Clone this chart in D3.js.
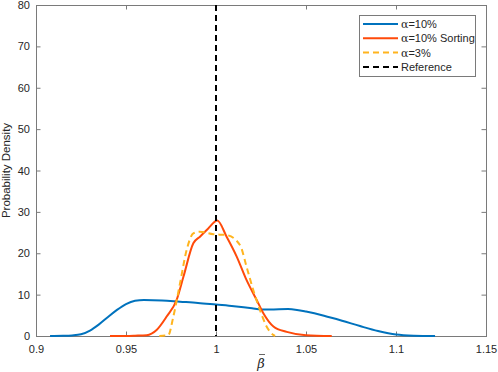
<!DOCTYPE html>
<html>
<head>
<meta charset="utf-8">
<script src="https://cdn.jsdelivr.net/npm/d3@7"></script>
<style>
  body { margin: 0; background: #fff; }
  text { font-family: "Liberation Sans", Arial, sans-serif; fill: #262626; }
</style>
</head>
<body>
<div id="chart"></div>
<script>
// x values / densities
const blueX = [0.9078, 0.915, 0.92, 0.925, 0.93, 0.935, 0.94, 0.945, 0.95, 0.955, 0.96, 0.97, 0.98, 0.99, 1.0, 1.01, 1.02, 1.025, 1.03, 1.04, 1.045, 1.05, 1.06, 1.07, 1.08, 1.09, 1.1, 1.11, 1.1217];
const blueY = [0, 0.05, 0.15, 0.4, 1.3, 2.8, 4.6, 6.3, 7.7, 8.5, 8.7, 8.6, 8.3, 8.0, 7.6, 7.2, 6.7, 6.4, 6.4, 6.5, 6.3, 5.9, 4.9, 3.7, 2.4, 1.2, 0.35, 0.08, 0];

const sortX = [0.9411, 0.95, 0.955, 0.9615, 0.967, 0.9726, 0.9781, 0.9819, 0.9874, 0.9911, 0.9957, 1.0007, 1.0059, 1.0115, 1.017, 1.0226, 1.0263, 1.0319, 1.0393, 1.05, 1.0643];
const sortY = [0, 0.02, 0.08, 0.2, 1.45, 4.7, 8.7, 14.3, 22.4, 24, 26, 27.9, 24, 19.2, 13.5, 8.7, 5.5, 2.3, 1.0, 0.2, 0];

const a3X = [0.9685, 0.9735, 0.9763, 0.98, 0.9837, 0.9874, 0.991, 0.9985, 1.0059, 1.0133, 1.017, 1.0207, 1.0244, 1.0281, 1.032, 1.0328];
const a3Y = [0, 0.2, 4.7, 12.7, 20.8, 24.8, 25.2, 24.6, 24.4, 22, 16.7, 11.1, 6.3, 2.3, 0.2, 0];

const refX = 1;
const xTicks = [0.9, 0.95, 1, 1.05, 1.1, 1.15];
const yTicks = [0, 10, 20, 30, 40, 50, 60, 70, 80];
const legendLabels = ["10%", "10% Sorting", "3%", "Reference"];

const W = 498, H = 372;
const margin = {left: 36, right: 12, top: 5, bottom: 36};
const width = W - margin.left - margin.right;
const height = H - margin.top - margin.bottom;

const svg = d3.select("#chart").append("svg")
    .attr("width", W)
    .attr("height", H);

const g = svg.append("g")
    .attr("transform", `translate(${margin.left},${margin.top})`);

const x = d3.scaleLinear().domain([0.9, 1.15]).range([0, width]);
const y = d3.scaleLinear().domain([0, 80]).range([height, 0]);

const axisColor = "#7a7a7a";
const tickLen = 4.5;

// ticks pointing inward on all four sides
const xAxis = d3.axisBottom(x).tickValues(xTicks).tickSize(-tickLen).tickPadding(9)
    .tickFormat(d => d3.format("")(+d.toFixed(2)));
const yAxis = d3.axisLeft(y).tickValues(yTicks).tickSize(-tickLen).tickPadding(6);

g.append("g").attr("transform", `translate(0,${height})`).call(xAxis);
g.append("g").call(yAxis);
g.append("g").call(d3.axisTop(x).tickValues(xTicks).tickSize(-tickLen).tickFormat(""));
g.append("g").attr("transform", `translate(${width},0)`)
    .call(d3.axisRight(y).tickValues(yTicks).tickSize(-tickLen).tickFormat(""));

g.selectAll(".domain").remove();
g.selectAll(".tick line").attr("stroke", axisColor);
g.selectAll(".tick text").style("font-size", "11px").attr("fill", "#262626");

// box
g.append("rect")
    .attr("x", 0.5).attr("y", 0.5)
    .attr("width", width).attr("height", height)
    .attr("fill", "none")
    .attr("stroke", axisColor);

const lineOf = (xs, ys) => d3.line()
    .x(d => x(d))
    .y((d, i) => y(ys[i]))
    .curve(d3.curveMonotoneX)(xs);

g.append("path")
    .attr("d", lineOf(blueX, blueY))
    .attr("fill", "none").attr("stroke", "#0072BD").attr("stroke-width", 2);

g.append("path")
    .attr("d", lineOf(sortX, sortY))
    .attr("fill", "none").attr("stroke", "#FF4A0A").attr("stroke-width", 2);

g.append("path")
    .attr("d", lineOf(a3X, a3Y))
    .attr("fill", "none").attr("stroke", "#FFB41E").attr("stroke-width", 2)
    .attr("stroke-dasharray", "6,4");

g.append("line")
    .attr("x1", x(refX)).attr("x2", x(refX))
    .attr("y1", y(80)).attr("y2", y(0))
    .attr("stroke", "#000").attr("stroke-width", 2)
    .attr("stroke-dasharray", "6,4");

// axis labels
svg.append("text")
    .attr("transform", `translate(10,${margin.top + height / 2}) rotate(-90)`)
    .attr("text-anchor", "middle")
    .style("font-size", "11.5px")
    .text("Probability Density");

const xl = margin.left + width / 2;
svg.append("text")
    .attr("x", xl)
    .attr("y", 368)
    .attr("text-anchor", "middle")
    .style("font-size", "13px")
    .style("font-style", "italic")
    .style("font-family", "'DejaVu Serif', serif")
    .attr("fill", "#555")
    .text("\u03B2");
// bar over beta
svg.append("line")
    .attr("x1", xl - 2).attr("x2", xl + 4)
    .attr("y1", 354.5).attr("y2", 354.5)
    .attr("stroke", "#666").attr("stroke-width", 1);

// legend
const legend = svg.append("g");
legend.append("rect")
    .attr("x", 359.5).attr("y", 15.5)
    .attr("width", 116).attr("height", 61)
    .attr("fill", "#fff").attr("stroke", axisColor);

const legStyles = [
    {c: "#0072BD", dash: null},
    {c: "#FF4A0A", dash: null},
    {c: "#FFB41E", dash: "6,4"},
    {c: "#000", dash: "6,4"}
];
legendLabels.forEach((lab, i) => {
    const yy = 24 + i * 14.3;
    legend.append("line")
        .attr("x1", 363).attr("x2", 398)
        .attr("y1", yy).attr("y2", yy)
        .attr("stroke", legStyles[i].c).attr("stroke-width", 2)
        .attr("stroke-dasharray", legStyles[i].dash);
    const t = legend.append("text")
        .attr("x", 401).attr("y", yy + 4)
        .style("font-size", "11px");
    if (i < 3) {
        t.append("tspan").style("font-family", "'DejaVu Serif', serif").style("font-size", "11px").text("\u03B1");
        t.append("tspan").text("=" + lab);
    } else {
        t.text(lab);
    }
});
</script>
</body>
</html>
